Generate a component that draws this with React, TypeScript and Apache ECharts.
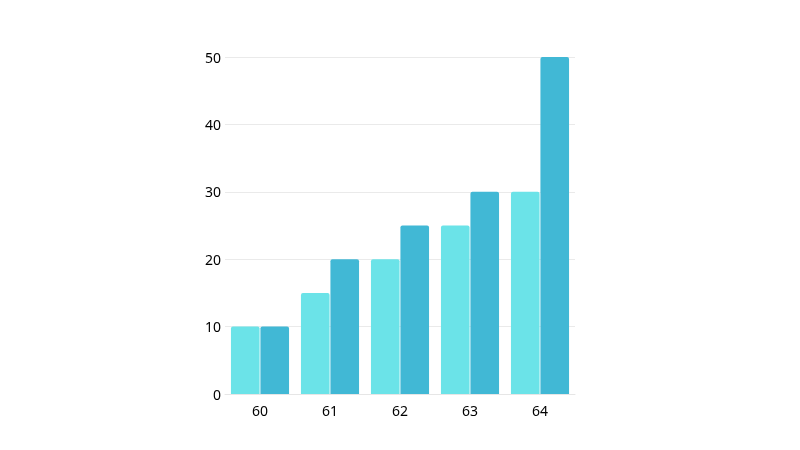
import React, { useEffect, useRef } from "react";
import * as echarts from "echarts";

const categories = ["60", "61", "62", "63", "64"];
const seriesA = [10, 15, 20, 25, 30];
const seriesB = [10, 20, 25, 30, 50];

export default function App() {
  const ref = useRef<HTMLDivElement>(null);
  useEffect(() => {
    if (!ref.current) return;
    const chart = echarts.init(ref.current, undefined, { renderer: "svg" });
    chart.setOption({
      animation: false,
      grid: { left: 225, right: 225, top: 57, bottom: 56, containLabel: false },
      xAxis: {
        type: "category",
        data: categories,
        axisLine: { show: true, lineStyle: { color: "#e6e6e6" } },
        axisTick: { show: false },
        axisLabel: { color: "#000", fontSize: 14, fontFamily: "Noto Sans", margin: 9 },
      },
      yAxis: {
        type: "value",
        min: 0,
        max: 50,
        interval: 10,
        axisLine: { show: false },
        axisTick: { show: false },
        splitLine: { lineStyle: { color: "#eaeaea" } },
        axisLabel: { color: "#000", fontSize: 14, fontFamily: "Noto Sans", margin: 4 },
      },
      series: [
        {
          type: "bar",
          data: seriesA,
          barGap: "3%",
          barCategoryGap: "17%",
          itemStyle: { color: "#6BE3E8", borderRadius: [2, 2, 0, 0] },
        },
        {
          type: "bar",
          data: seriesB,
          itemStyle: { color: "#41B8D5", borderRadius: [2, 2, 0, 0] },
        },
      ],
    });
    return () => chart.dispose();
  }, []);
  return (
    <div
      ref={ref}
      style={{ position: "fixed", left: 0, top: 0, width: 800, height: 450 }}
    />
  );
}
